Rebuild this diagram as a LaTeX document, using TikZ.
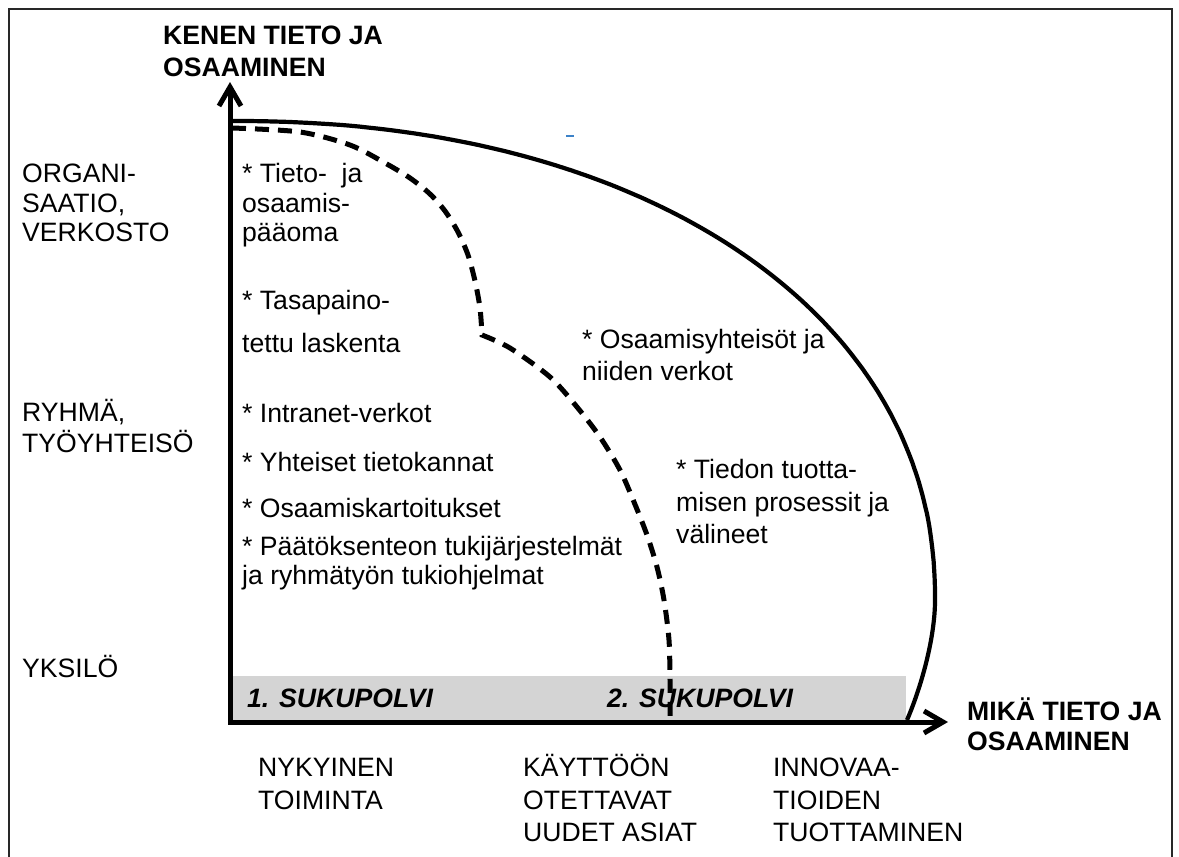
\documentclass[tikz,border=0pt]{standalone}
\usepackage{fontspec}
\setmainfont{Liberation Sans}
\usetikzlibrary{arrows.meta}
\definecolor{bandgray}{RGB}{212,212,212}
\definecolor{framegray}{RGB}{40,40,40}
\definecolor{tickblue}{RGB}{60,130,200}
\newcommand{\labelsize}{\fontsize{26.6}{31}\selectfont}
\begin{document}
\begin{tikzpicture}[x=1pt,y=-1pt,
  txt/.style={anchor=base west, inner sep=0pt, font=\labelsize},
  head/.style={txt, font=\labelsize\bfseries},
  gen/.style={txt, font=\labelsize\bfseries\itshape},
  axisline/.style={line width=5pt, line join=miter,
    {Straight Barb[length=19pt,width=22pt]}-{Straight Barb[length=19pt,width=22pt]}},
  outer/.style={line width=4.2pt},
  inner/.style={line width=5pt, dash pattern=on 14pt off 9pt}]

\useasboundingbox (0,0) rectangle (1179,857);

% frame
\draw[framegray, line width=1.5pt] (9,860) -- (9,9) -- (1172,9) -- (1172,860);

% generation band
\fill[bandgray] (233,676) rectangle (906,720);
\node[gen] (g1) at (247,707) {1. SUKUPOLVI};
\node[gen] (g2) at (607,707) {2. SUKUPOLVI};

% axis headings
\node[head] (yh1) at (163,44) {KENEN TIETO JA};
\node[head] (yh2) at (163,76) {OSAAMINEN};
\node[head] (xh1) at (967,720) {MIKÄ TIETO JA};
\node[head] (xh2) at (967,750) {OSAAMINEN};

% levels on the vertical axis
\node[txt] (l1a) at (22,182) {ORGANI-};
\node[txt] (l1b) at (22,212) {SAATIO,};
\node[txt] (l1c) at (22,241) {VERKOSTO};
\node[txt] (l2a) at (22,421) {RYHMÄ,};
\node[txt] (l2b) at (22,452) {TYÖYHTEISÖ};
\node[txt] (l3a) at (22,677) {YKSILÖ};

% categories on the horizontal axis
\node[txt] (c1a) at (258,776) {NYKYINEN};
\node[txt] (c1b) at (258,809) {TOIMINTA};
\node[txt] (c2a) at (523,776) {KÄYTTÖÖN};
\node[txt] (c2b) at (523,809) {OTETTAVAT};
\node[txt] (c2c) at (523,841) {UUDET ASIAT};
\node[txt] (c3a) at (773,776) {INNOVAA-};
\node[txt] (c3b) at (773,809) {TIOIDEN};
\node[txt] (c3c) at (773,841) {TUOTTAMINEN};

% first generation tools
\node[txt] (a1) at (242,182) {* Tieto-\ \ ja};
\node[txt] (a2) at (242,212) {osaamis-};
\node[txt] (a3) at (242,241) {pääoma};
\node[txt] (b1) at (242,309) {* Tasapaino-};
\node[txt] (b2) at (242,352) {tettu laskenta};
\node[txt] (d1) at (242,422) {* Intranet-verkot};
\node[txt] (d2) at (242,471) {* Yhteiset tietokannat};
\node[txt] (d3) at (242,517) {* Osaamiskartoitukset};
\node[txt] (d4) at (242,555) {* Päätöksenteon tukijärjestelmät};
\node[txt] (d5) at (242,584) {ja ryhmätyön tukiohjelmat};

% second generation tools
\node[txt] (e1) at (582,348) {* Osaamisyhteisöt ja};
\node[txt] (e2) at (582,380) {niiden verkot};
\node[txt] (f1) at (676,478) {* Tiedon tuotta-};
\node[txt] (f2) at (676,511) {misen prosessit ja};
\node[txt] (f3) at (676,543) {välineet};

% axes
\coordinate (ytip) at (230,82);
\coordinate (origin) at (230,722);
\coordinate (xtip) at (948,722);
\draw[axisline] (ytip) -- (origin) -- (xtip);

% outer boundary: a rounded quarter curve that turns back onto the axis
\coordinate (outerend) at (907,720);
\draw[outer, line join=round] plot[domain=89.99:0.01, samples=120, variable=\t]
  ({232+703*pow(cos(\t),0.9302)}, {600-479*pow(sin(\t),0.9302)})
  .. controls (935,640) and (920,690) .. (outerend);

% boundary of the first generation, with its kink
\coordinate (kink) at (482,335);
\coordinate (innerend) at (670,720);
\draw[inner] plot[smooth, tension=0.5] coordinates {
  (232,128) (300,132) (350,145) (385,163) (410,178) (430,194) (445,211)
  (458,232) (468,255) (475,281) (480,308) (kink)}
  -- plot[smooth, tension=0.5] coordinates {
  (kink) (510,348) (550,377) (577,407) (600,437) (620,470) (634,502)
  (647,535) (657,567) (664,600) (669,640) (670,680) (innerend)};

% small blue mark
\draw[tickblue, line width=1.3pt] (566,136) -- (574,136);
\end{tikzpicture}
\end{document}
